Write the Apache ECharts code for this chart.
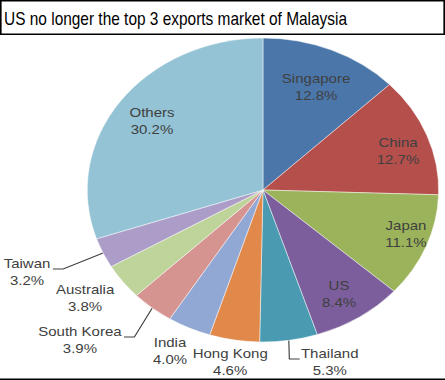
<!DOCTYPE html>
<html>
<head>
<meta charset="utf-8">
<script src="https://cdn.jsdelivr.net/npm/echarts@6/dist/echarts.min.js"></script>
<style>
html,body{margin:0;padding:0;background:#fff;overflow:hidden;}
#chart{width:385px;height:380px;transform:scaleX(1.155844);transform-origin:0 0;}
</style>
</head>
<body>
<div id="chart"></div>
<script>
// ---- data ----
const titleText = 'US no longer the top 3 exports market of Malaysia';
const categories = ['Singapore','China','Japan','US','Thailand','Hong Kong','India','South Korea','Australia','Taiwan','Others'];
const shares = [12.8, 12.7, 11.1, 8.4, 5.3, 4.6, 4.0, 3.9, 3.8, 3.2, 30.2];

// ---- styles ----
const colors = ['#4A76AA','#B44F4B','#9BB35A','#7B5E9B','#4A9BB2','#E1894B','#92A8D4','#D69491','#BED49B','#AC9DC8','#93C3D4'];
// label placement: [radius factor, angle nudge (deg), leader line]
const labelPlace = [
  [0.742, 1.0, false],
  [0.81, 2.7, false],
  [0.864, -2.2, false],
  [0.81, 0.8, false],
  [1.194, -10.1, true],
  [1.147, 0.0, false],
  [1.184, 1.7, false],
  [1.435, 7.5, true],
  [1.237, 2.0, false],
  [1.447, 2.6, true],
  [0.778, 0.1, false]
];
const CX = 227.5, CY = 190, R = 152;

const total = shares.reduce((a, b) => a + b, 0);
const midAngles = [];
let acc = 0;
shares.forEach(v => { midAngles.push((acc + v / 2) / total * 360); acc += v; });

const chart = echarts.init(document.getElementById('chart'), null, {renderer: 'svg'});
chart.setOption({
  animation: false,
  graphic: [
    {type: 'rect', shape: {x: 0.65, y: 0.75, width: 383.7, height: 33.6},
     style: {fill: 'none', stroke: '#000', lineWidth: 1.5}},
    {type: 'line', shape: {x1: 0, y1: 379.2, x2: 385, y2: 379.2},
     style: {stroke: '#000', lineWidth: 1.5}},
    {type: 'text', x: 3.5, y: 18, scaleX: 0.703,
     style: {text: titleText, fill: '#000', fontSize: 19, fontFamily: 'Liberation Sans, Arial, sans-serif',
             align: 'left', verticalAlign: 'middle', textAlign: 'left', textVerticalAlign: 'middle'}}
  ],
  series: [{
    type: 'pie',
    center: [CX, CY],
    radius: [0, R],
    startAngle: 90,
    clockwise: true,
    avoidLabelOverlap: false,
    itemStyle: {borderColor: 'rgba(255,255,255,0.55)', borderWidth: 0.8},
    label: {
      show: true,
      position: 'outside',
      color: '#404040',
      fontSize: 13,
      lineHeight: 17,
      fontFamily: 'Liberation Sans, Arial, sans-serif',
      align: 'center',
      formatter: p => p.name + '\n' + p.value.toFixed(1) + '%'
    },
    labelLine: {show: true, length: 5, length2: 5, smooth: false,
                lineStyle: {color: '#404040', width: 1}},
    labelLayout: function (params) {
      const i = params.dataIndex;
      const pl = labelPlace[i];
      const a = (midAngles[i] + pl[1]) * Math.PI / 180;
      const x = CX + pl[0] * R * Math.sin(a);
      const y = CY - pl[0] * R * Math.cos(a);
      const out = {x: x, y: y, align: 'center', verticalAlign: 'middle'};
      if (pl[2]) {
        const m = midAngles[i] * Math.PI / 180;
        const ex = CX + R * Math.sin(m), ey = CY - R * Math.cos(m);
        const w = params.labelRect.width;
        const right = x > ex;
        const ax = right ? x - w / 2 - 1 : x + w / 2 + 2;
        const ay = y - 3;
        const bx = right ? ax - 9 : ax + 9;
        out.labelLinePoints = [[ex, ey], [bx, ay], [ax, ay]];
      }
      return out;
    },
    data: categories.map((c, i) => ({
      name: c,
      value: shares[i],
      itemStyle: {color: colors[i]},
      labelLine: {show: labelPlace[i][2]}
    }))
  }]
});
</script>
</body>
</html>
